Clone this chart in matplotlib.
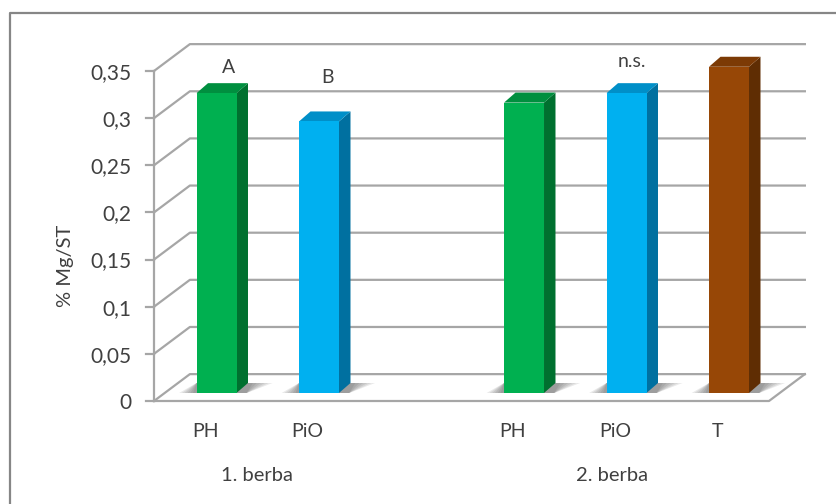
import numpy as np
import matplotlib
matplotlib.use('Agg')
import matplotlib.pyplot as plt
from matplotlib.patches import Polygon

plt.rcParams['font.family'] = ['Lato', 'DejaVu Sans']

# chart data, the blank category splits the two harvests
categories = ['PH', 'PiO', '', 'PH', 'PiO', 'T']
values = [0.318, 0.288, None, 0.308, 0.318, 0.346]
front_colors = ['#00B050', '#00B0F0', None, '#00B050', '#00B0F0', '#974706']
side_colors = ['#00702F', '#0070A0', None, '#00702F', '#0070A0', '#5F2D03']
top_colors = ['#008F3F', '#008FC8', None, '#008F3F', '#008FC8', '#7C3A05']
y_ticks = [0, 0.05, 0.1, 0.15, 0.2, 0.25, 0.3, 0.35]
y_labels = ['0', '0,05', '0,1', '0,15', '0,2', '0,25', '0,3', '0,35']
sig_labels = [(0.23, 0.3535, 'A'), (1.19, 0.343, 'B'), (4.16, 0.36, 'n.s.')]
groups = [(0.5, '1. berba'), (3.97, '2. berba')]

W, H = 837, 504
LINE = '#A6A6A6'
TEXT = '#404040'
FS = 14.5

fig = plt.figure(figsize=(W / 100, H / 100), dpi=100)
ax = fig.add_axes([154 / W, 1 - 401 / H, 615 / W, 330 / H])
ax.set_xlim(-0.5, 5.5)
ax.set_ylim(0, 0.35)
ax.axis('off')

# 3d look, depth of the chart box and of a bar in data units
dx, dy = 0.35, 0.0285
bar_off, bar_base = -0.085, 0.0085
bar_w = 0.39
bar_dx, bar_dy = 0.112, 0.0106

# outer frame, cut off on the right and at the bottom
fig.add_artist(plt.Line2D([10 / W, 10 / W, 1], [0, 1 - 13 / H, 1 - 13 / H], color='#868686', lw=1.6))

# back wall gridlines and the diagonals
for t in y_ticks:
    ax.plot([-0.5, -0.5 + dx, 5.5 + dx], [t, t + dy, t + dy], color=LINE, lw=1.6, clip_on=False, zorder=1)
    ax.plot([-0.5 - 0.075, -0.5], [t, t], color=LINE, lw=1.6, clip_on=False, zorder=1)
ax.plot([-0.5, -0.5], [0, 0.35], color=LINE, lw=1.6, clip_on=False, zorder=1)
ax.plot([-0.5, 5.5, 5.5 + dx], [0, 0, dy], color=LINE, lw=1.6, clip_on=False, zorder=1)

# bars
for i, v in enumerate(values):
    if v is None:
        continue
    x0 = i + bar_off
    x1 = x0 + bar_w
    top = bar_base + v
    # floor shadow, a few layers to get it soft
    for k in np.linspace(1.0, 0.2, 6):
        ax.add_patch(Polygon([(x0 - 0.17 * k, bar_base), (x1 + 0.1, bar_base),
                              (x1 + bar_dx + 0.24 * k, bar_base + bar_dy),
                              (x0, bar_base + bar_dy)],
                             fc='#404040', ec='none', alpha=0.11, clip_on=False, zorder=2))
    ax.add_patch(Polygon([(x1, bar_base), (x1 + bar_dx, bar_base + bar_dy),
                          (x1 + bar_dx, top + bar_dy), (x1, top)],
                         fc=side_colors[i], ec='none', clip_on=False, zorder=3))
    ax.add_patch(Polygon([(x0, top), (x0 + bar_dx, top + bar_dy),
                          (x1 + bar_dx, top + bar_dy), (x1, top)],
                         fc=top_colors[i], ec='none', clip_on=False, zorder=3))
    ax.bar(x0, v, width=bar_w, bottom=bar_base, align='edge',
           color=front_colors[i], clip_on=False, zorder=4)

# tick labels
for t, lab in zip(y_ticks, y_labels):
    ax.text(-0.72, t - 0.002, lab, ha='right', va='center', fontsize=FS + 0.5, color=TEXT, clip_on=False)
for i, c in enumerate(categories):
    ax.text(i, -0.0325, c, ha='center', va='center', fontsize=FS - 0.5, color=TEXT, clip_on=False)
for x, lab in groups:
    ax.text(x, -0.079, lab, ha='center', va='center', fontsize=FS, color=TEXT, clip_on=False)
for x, y, lab in sig_labels:
    ax.text(x, y, lab, ha='center', va='center', fontsize=FS - 0.5, color=TEXT, clip_on=False)

fig.text(66 / W, 1 - 266 / H, '% Mg/ST', rotation=90, ha='center', va='center', fontsize=FS, color=TEXT)

fig.savefig('out.png', dpi=100)
